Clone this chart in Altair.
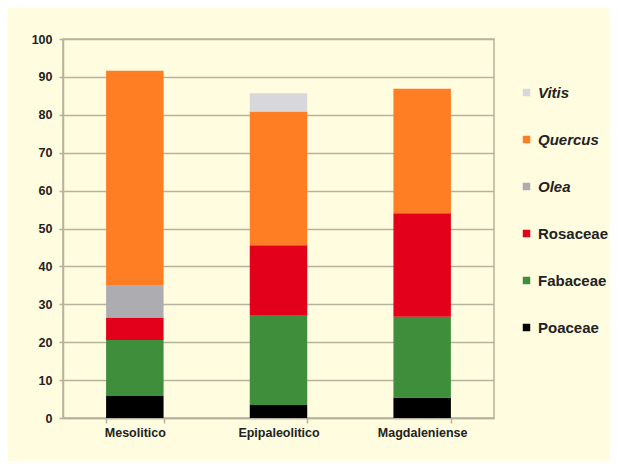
import altair as alt
import pandas as pd

periods = ["Mesolitico", "Epipaleolitico", "Magdaleniense"]
# stacking order bottom -> top
taxa = ["Poaceae", "Fabaceae", "Rosaceae", "Olea", "Quercus", "Vitis"]
poaceae = [5.8, 3.4, 5.4]
fabaceae = [14.8, 23.6, 21.3]
rosaceae = [5.9, 18.6, 27.3]
olea = [8.6, 0.0, 0.0]
quercus = [56.5, 35.3, 32.9]
vitis = [0.0, 4.8, 0.0]

legend_order = ["Vitis", "Quercus", "Olea", "Rosaceae", "Fabaceae", "Poaceae"]
colors = ["#D8D8DC", "#FF7D23", "#ADADB1", "#E2001A", "#3E8E3B", "#000000"]

series = [poaceae, fabaceae, rosaceae, olea, quercus, vitis]
rows = []
for rank, (name, vals) in enumerate(zip(taxa, series)):
    for p, v in zip(periods, vals):
        if v > 0:
            rows.append({"period": p, "taxon": name, "value": v, "rank": rank})
df = pd.DataFrame(rows)

FONT = "Liberation Sans, Arial, sans-serif"
GRID = "#B6B39C"
TXT = "#222222"

chart = alt.Chart(df).mark_bar().encode(
    x=alt.X("period:N", sort=periods, title=None,
            scale=alt.Scale(paddingInner=0.6, paddingOuter=0.3),
            axis=alt.Axis(labelAngle=0, labelFont=FONT, labelFontSize=12.5,
                          labelFontWeight="bold", labelColor=TXT,
                          tickBand="extent", tickSize=5, tickColor=GRID,
                          tickWidth=1.5, domainColor=GRID, domainWidth=1.5,
                          labelPadding=3, grid=False)),
    y=alt.Y("value:Q", stack="zero", title=None,
            scale=alt.Scale(domain=[0, 100], nice=False),
            axis=alt.Axis(values=list(range(0, 101, 10)), labelFont=FONT,
                          labelFontSize=12.5, labelFontWeight="bold", labelColor=TXT,
                          tickSize=4, tickColor=GRID, tickWidth=1.5, labelPadding=7,
                          domainColor=GRID, domainWidth=1.5,
                          grid=True, gridColor=GRID, gridWidth=1.5)),
    color=alt.Color("taxon:N", title=None,
                    scale=alt.Scale(domain=legend_order, range=colors),
                    legend=alt.Legend(orient="none", legendX=456, legendY=46,
                                      symbolType="square", symbolSize=56,
                                      symbolStrokeWidth=0, labelFont=FONT,
                                      labelFontSize=15, labelFontWeight="bold",
                                      labelColor=TXT,
                                      labelFontStyle=alt.ExprRef(expr="indexof(['Vitis','Quercus','Olea'], datum.value) >= 0 ? 'italic' : 'normal'"),
                                      rowPadding=31, labelOffset=4, padding=0)),
    order=alt.Order("rank:Q", sort="ascending"),
).properties(
    width=431, height=379,
    background="#FFFCE0",
    padding={"left": 55, "top": 31, "right": 116, "bottom": 43},
    autosize=alt.AutoSizeParams(type="none"),
).configure_view(stroke=GRID, strokeWidth=1.5)

chart.save("out.html", embed_options={"renderer": "svg", "actions": False})
